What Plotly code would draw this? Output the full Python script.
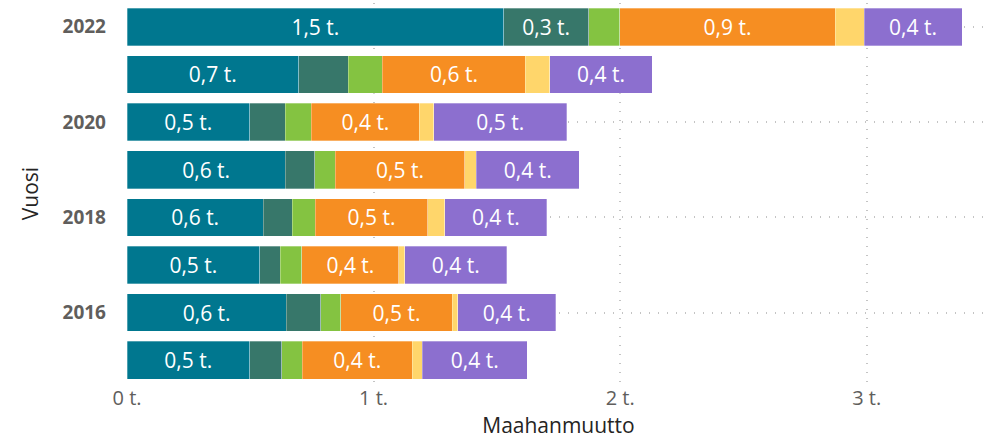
import plotly.graph_objects as go

years = [2015, 2016, 2017, 2018, 2019, 2020, 2021, 2022]

# thousands of people, per category, one value per year
teal = [0.497, 0.646, 0.538, 0.553, 0.642, 0.497, 0.696, 1.528]
dark_green = [0.131, 0.140, 0.083, 0.117, 0.119, 0.144, 0.202, 0.344]
green = [0.083, 0.081, 0.088, 0.094, 0.084, 0.107, 0.138, 0.127]
orange = [0.446, 0.452, 0.394, 0.455, 0.524, 0.438, 0.580, 0.873]
yellow = [0.041, 0.022, 0.024, 0.070, 0.048, 0.058, 0.098, 0.117]
purple = [0.425, 0.398, 0.413, 0.414, 0.417, 0.540, 0.417, 0.398]

series = [
    (teal, "#00778F"),
    (dark_green, "#37776A"),
    (green, "#84C341"),
    (orange, "#F68E22"),
    (yellow, "#FFD66B"),
    (purple, "#8C6FCF"),
]


def label(v):
    # Power BI only shows the data label when the segment is wide enough
    if v < 0.25:
        return ""
    return f"{v:.1f}".replace(".", ",") + " t."


fig = go.Figure()
for vals, col in series:
    fig.add_trace(go.Bar(
        x=vals, y=years, orientation="h",
        marker=dict(color=col, line=dict(width=0.6, color="rgba(255,255,255,0.5)")),
        text=[label(v) for v in vals],
        textposition="inside", insidetextanchor="middle",
        constraintext="none",
        textfont=dict(color="white", size=21, family="Open Sans"),
        textangle=0,
        showlegend=False,
    ))

fig.update_layout(
    barmode="stack",
    bargap=0.21,
    width=1001, height=444,
    margin=dict(l=127, r=11, t=3, b=60),
    plot_bgcolor="white", paper_bgcolor="white",
    font=dict(family="Open Sans", color="#605E5C"),
)
fig.update_xaxes(
    range=[0, 3.5],
    tickvals=[0, 1, 2, 3],
    ticktext=["0 t.", "1 t.", "2 t.", "3 t."],
    tickfont=dict(size=20, color="#605E5C"),
    showgrid=True, gridcolor="#C4C4C4", griddash="1px,8px", gridwidth=1.5,
    zeroline=False, showline=False, automargin=False,
    title=dict(text="Maahanmuutto", font=dict(size=21, color="#252423"), standoff=8),
)
fig.update_yaxes(
    range=[2014.5, 2022.5],
    tickvals=[2016, 2018, 2020, 2022],
    ticktext=["<b>2016</b>", "<b>2018</b>", "<b>2020</b>", "<b>2022</b>"],
    tickfont=dict(size=19, color="#605E5C"),
    ticklabelstandoff=20,
    showgrid=True, gridcolor="#C4C4C4", griddash="1px,8px", gridwidth=1.5,
    zeroline=False, showline=False, automargin=False,
    title=dict(text="Vuosi", font=dict(size=21, color="#252423"), standoff=18),
)

# drop the browser's default body margin so the chart sits at the page corner
fig.write_html("out.html", config={"displayModeBar": False},
               post_script="document.body.style.margin='0';")
